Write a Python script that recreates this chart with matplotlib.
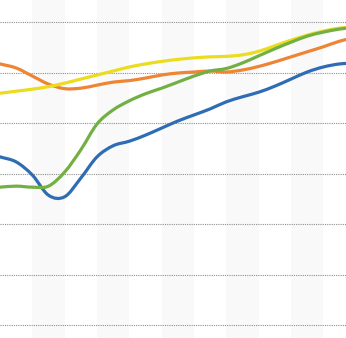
import matplotlib
matplotlib.use("Agg")
import matplotlib.pyplot as plt
import numpy as np
from matplotlib.path import Path
from matplotlib.patches import PathPatch

# category positions (half-band steps)
x = np.arange(0, 11.5, 0.5)

blue = [33.3, 32.3, 29.7, 25.7, 25.4, 29.1, 33.3, 35.5, 36.4, 37.6, 39.0, 40.4,
        41.6, 42.8, 44.2, 45.2, 46.1, 47.3, 48.7, 50.1, 51.1, 51.7, 51.9]
orange = [51.7, 50.9, 49.3, 47.7, 46.8, 46.9, 47.5, 48.1, 48.4, 48.9, 49.5, 49.9,
          50.1, 50.3, 50.1, 50.5, 51.2, 52.1, 53.1, 54.1, 55.1, 56.2, 57.0]
yellow = [45.9, 46.3, 46.7, 47.2, 47.9, 48.7, 49.5, 50.3, 51.1, 51.7, 52.2, 52.6,
          52.9, 53.1, 53.2, 53.5, 54.2, 55.3, 56.4, 57.4, 58.2, 58.8, 59.0]
green = [27.3, 27.5, 27.3, 27.5, 30.3, 34.7, 39.8, 42.6, 44.4, 45.8, 46.9, 48.1,
         49.3, 50.3, 50.8, 51.9, 53.3, 54.7, 56.0, 57.2, 58.0, 58.6, 59.0]

series = [(blue, "#2e6db4"), (orange, "#ed8534"), (yellow, "#ecdc1e"), (green, "#72b043")]

grid_vals = [0, 10, 20, 30, 40, 50, 60]
bands = [(1, 2), (3, 4), (5, 6), (7, 8), (9, 10)]


def smooth_path(xs, ys):
    # excel-like smoothed line: catmull-rom segments as cubic beziers
    p = np.column_stack([xs, ys]).astype(float)
    n = len(p)
    t = np.zeros_like(p)
    t[1:-1] = (p[2:] - p[:-2]) / 2
    t[0] = p[1] - p[0]
    t[-1] = p[-1] - p[-2]
    verts = [p[0]]
    codes = [Path.MOVETO]
    for i in range(n - 1):
        verts += [p[i] + t[i] / 3, p[i + 1] - t[i + 1] / 3, p[i + 1]]
        codes += [Path.CURVE4] * 3
    return Path(verts, codes)


fig = plt.figure(figsize=(3.46, 3.38), dpi=100)
ax = fig.add_axes([0, 0, 1, 1])

for a, b in bands:
    ax.axvspan(a, b, color="#f9f9f9", lw=0, zorder=0)

for g in grid_vals:
    ax.axhline(g, color="#8f8f8f", lw=0.8, ls=(0, (1, 1)), zorder=1)

for vals, col in series:
    ax.add_patch(PathPatch(smooth_path(x, vals), fill=False, edgecolor=col,
                           lw=2.3, capstyle="round", joinstyle="round", zorder=3))

ax.set_xlim(0, 10.7)
ax.set_ylim(-2.57, 64.36)
ax.axis("off")

fig.savefig("out.png", dpi=100)
